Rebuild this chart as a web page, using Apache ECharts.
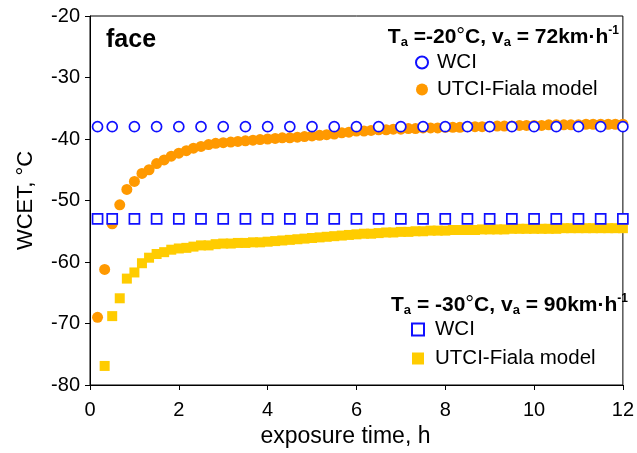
<!DOCTYPE html>
<html>
<head>
<meta charset="utf-8">
<script src="https://cdn.jsdelivr.net/npm/echarts@6/dist/echarts.min.js"></script>
<style>
  html, body { margin: 0; padding: 0; background: #fff; }
  #chart { width: 637px; height: 453px; }
</style>
</head>
<body>
<div id="chart"></div>
<script>
// Exposure times (h) of the WCI reference points
const wciTimes = [0.17, 0.5, 1, 1.5, 2, 2.5, 3, 3.5, 4, 4.5, 5, 5.5, 6, 6.5, 7, 7.5, 8, 8.5, 9, 9.5, 10, 10.5, 11, 11.5, 12];
// WCI at Ta=-20°C, va=72 km/h
const wciWarm = [-38, -38, -38, -38, -38, -38, -38, -38, -38, -38, -38, -38, -38, -38, -38, -38, -38, -38, -38, -38, -38, -38, -38, -38, -38];
// WCI at Ta=-30°C, va=90 km/h
const wciCold = [-53, -53, -53, -53, -53, -53, -53, -53, -53, -53, -53, -53, -53, -53, -53, -53, -53, -53, -53, -53, -53, -53, -53, -53, -53];

// Exposure times (h) of the model output, every 10 minutes
const modelTimes = [0.17, 0.33, 0.5, 0.67, 0.83, 1, 1.17, 1.33, 1.5, 1.67, 1.83, 2,
  2.17, 2.33, 2.5, 2.67, 2.83, 3, 3.17, 3.33, 3.5, 3.67, 3.83, 4,
  4.17, 4.33, 4.5, 4.67, 4.83, 5, 5.17, 5.33, 5.5, 5.67, 5.83, 6,
  6.17, 6.33, 6.5, 6.67, 6.83, 7, 7.17, 7.33, 7.5, 7.67, 7.83, 8,
  8.17, 8.33, 8.5, 8.67, 8.83, 9, 9.17, 9.33, 9.5, 9.67, 9.83, 10,
  10.17, 10.33, 10.5, 10.67, 10.83, 11, 11.17, 11.33, 11.5, 11.67, 11.83, 12];
// UTCI-Fiala face temperature, Ta=-20°C, va=72 km/h
const fialaWarm = [-69.0, -61.2, -53.8, -50.7, -48.2, -46.9, -45.6, -45.0, -44.0, -43.4, -42.8, -42.3,
  -41.9, -41.5, -41.2, -40.9, -40.7, -40.6, -40.5, -40.4, -40.3, -40.2, -40.1, -40.0,
  -39.9, -39.8, -39.8, -39.7, -39.6, -39.5, -39.4, -39.3, -39.2, -39.0, -38.9, -38.7,
  -38.7, -38.6, -38.5, -38.5, -38.4, -38.4, -38.3, -38.3, -38.2, -38.2, -38.2, -38.1,
  -38.1, -38.1, -38.0, -38.0, -38.0, -38.0, -37.9, -37.9, -37.9, -37.8, -37.8, -37.8,
  -37.8, -37.7, -37.7, -37.7, -37.7, -37.7, -37.6, -37.6, -37.6, -37.6, -37.6, -37.6];
// UTCI-Fiala face temperature, Ta=-30°C, va=90 km/h (first step below the axis range)
const fialaCold = [null, -76.9, -68.8, -65.9, -62.7, -61.7, -60.2, -59.3, -58.7, -58.4, -58.0, -57.8,
  -57.7, -57.5, -57.3, -57.3, -57.1, -57.0, -57.0, -56.9, -56.9, -56.8, -56.8, -56.7,
  -56.6, -56.5, -56.4, -56.3, -56.2, -56.1, -56.0, -55.9, -55.8, -55.7, -55.6, -55.5,
  -55.4, -55.4, -55.3, -55.2, -55.2, -55.1, -55.1, -55.0, -55.0, -54.9, -54.9, -54.9,
  -54.8, -54.8, -54.8, -54.8, -54.7, -54.7, -54.7, -54.7, -54.6, -54.6, -54.6, -54.6,
  -54.6, -54.6, -54.6, -54.5, -54.5, -54.5, -54.5, -54.5, -54.5, -54.5, -54.5, -54.5];

// Axis ticks
const xTicks = { min: 0, max: 12, step: 2 };
const yTicks = { min: -80, max: -20, step: 10 };

const FONT = '"Liberation Sans", Arial, Helvetica, sans-serif';
const BLUE = '#1010ff';
const ORANGE = '#ff9900';
const YELLOW = '#ffcc00';

const pairs = (xs, ys) => xs.map((x, i) => [x, ys[i]]).filter(p => p[1] !== null);

const legendName = { wciWarm: 'WCI', fialaWarm: 'UTCI-Fiala model', wciCold: 'WCI', fialaCold: 'UTCI-Fiala model' };

const condRich = {
  b: { fontFamily: FONT, fontWeight: 'bold', fontSize: 21, lineHeight: 24, color: '#000' },
  d: { fontFamily: FONT, fontWeight: 'normal', fontSize: 22, lineHeight: 24, color: '#000' },
  s: { fontFamily: FONT, fontWeight: 'bold', fontSize: 13, lineHeight: 14, verticalAlign: 'bottom', color: '#000' },
  p: { fontFamily: FONT, fontWeight: 'bold', fontSize: 12, lineHeight: 14, verticalAlign: 'top', color: '#000' }
};

const chart = echarts.init(document.getElementById('chart'), null, { renderer: 'canvas' });

chart.setOption({
  animation: false,
  backgroundColor: '#fff',
  textStyle: { fontFamily: FONT },
  title: [
    { text: 'face', left: 101, top: 23, textStyle: { fontFamily: FONT, fontWeight: 'bold', fontSize: 25, color: '#000' } },
    { text: '{b|T}{s|a}{b| =-20}{d|°}{b|C, v}{s|a}{b| = 72km·h}{p|-1}', right: 13, top: 20,
      textStyle: { rich: condRich } },
    { text: '{b|T}{s|a}{b| = -30}{d|°}{b|C, v}{s|a}{b| = 90km·h}{p|-1}', right: 4, top: 288,
      textStyle: { rich: condRich } }
  ],
  legend: [
    { data: ['wciWarm', 'fialaWarm'], orient: 'vertical', left: 410, top: 47, itemGap: 6,
      itemWidth: 12, itemHeight: 12, formatter: n => legendName[n],
      textStyle: { fontFamily: FONT, fontSize: 20.5, color: '#000', padding: [0, 0, 0, 4] }, selectedMode: false },
    { data: ['wciCold', 'fialaCold'], orient: 'vertical', left: 406, top: 314, itemGap: 8,
      itemWidth: 12, itemHeight: 12, formatter: n => legendName[n],
      textStyle: { fontFamily: FONT, fontSize: 20.5, color: '#000', padding: [0, 0, 0, 6] }, selectedMode: false }
  ],
  grid: { left: 90, right: 13, top: 16, bottom: 67, show: true, borderColor: '#000', borderWidth: 1, backgroundColor: 'transparent' },
  xAxis: {
    type: 'value', min: xTicks.min, max: xTicks.max, interval: xTicks.step,
    name: 'exposure time, h', nameLocation: 'middle', nameGap: 40,
    nameTextStyle: { fontFamily: FONT, fontSize: 23, color: '#000', padding: [0, 22, 0, 0] },
    axisLine: { lineStyle: { color: '#000', width: 1 } },
    axisTick: { show: true, inside: false, length: 5, lineStyle: { color: '#000' } },
    axisLabel: { fontFamily: FONT, fontSize: 20, color: '#000', margin: 15 },
    splitLine: { show: false }
  },
  yAxis: {
    type: 'value', min: yTicks.min, max: yTicks.max, interval: yTicks.step,
    name: 'WCET, °C', nameLocation: 'middle', nameGap: 53,
    nameTextStyle: { fontFamily: FONT, fontSize: 22, color: '#000' },
    axisLine: { show: true, lineStyle: { color: '#000', width: 1 } },
    axisTick: { show: true, inside: false, length: 5, lineStyle: { color: '#000' } },
    axisLabel: { fontFamily: FONT, fontSize: 20, color: '#000', margin: 10 },
    splitLine: { show: false }
  },
  series: [
    { name: 'fialaWarm', type: 'scatter', symbol: 'circle', symbolSize: 11,
      itemStyle: { color: ORANGE, opacity: 1 }, data: pairs(modelTimes, fialaWarm), z: 2 },
    { name: 'fialaCold', type: 'scatter', symbol: 'rect', symbolSize: 10,
      itemStyle: { color: YELLOW, opacity: 1 }, data: pairs(modelTimes, fialaCold), z: 2 },
    { name: 'wciWarm', type: 'scatter', symbol: 'circle', symbolSize: 10,
      itemStyle: { color: '#fff', borderColor: BLUE, borderWidth: 1.7, opacity: 1 }, data: pairs(wciTimes, wciWarm), z: 3 },
    { name: 'wciCold', type: 'scatter', symbol: 'rect', symbolSize: 10,
      itemStyle: { color: '#fff', borderColor: BLUE, borderWidth: 1.7, opacity: 1 }, data: pairs(wciTimes, wciCold), z: 3 }
  ]
});
</script>
</body>
</html>
